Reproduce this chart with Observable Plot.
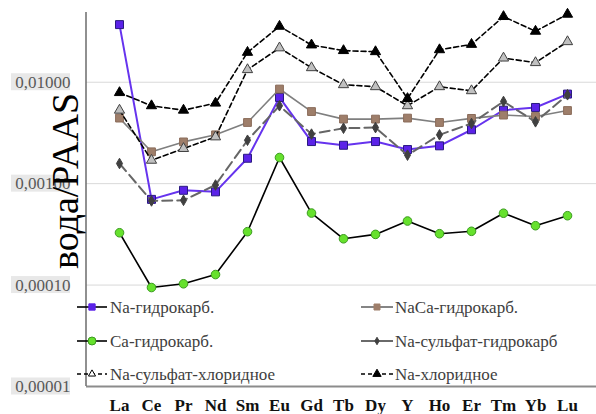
<!DOCTYPE html>
<html>
<head>
<meta charset="utf-8">
<script src="https://cdn.jsdelivr.net/npm/d3@7"></script>
<script src="https://cdn.jsdelivr.net/npm/@observablehq/plot@0.6"></script>
<style>
  html, body { margin: 0; padding: 0; background: white; }
  svg { display: block; }
</style>
</head>
<body>
<div id="chart"></div>
<script>
const elements = ["La","Ce","Pr","Nd","Sm","Eu","Gd","Tb","Dy","Y","Ho","Er","Tm","Yb","Lu"];

const seriesNames = ["Na-гидрокарб.","NaCa-гидрокарб.","Ca-гидрокарб.","Na-сульфат-гидрокарб","Na-сульфат-хлоридное","Na-хлоридное"];

const naHydrocarb     = [0.037,0.00070,0.00086,0.00083,0.00178,0.00708,0.0026,0.00239,0.0026,0.00217,0.00236,0.0034,0.0053,0.00564,0.00764];
const naCaHydrocarb   = [0.00443,0.00206,0.00258,0.00303,0.00401,0.00857,0.00514,0.00433,0.00433,0.00443,0.00401,0.0044,0.00474,0.00459,0.00526];
const caHydrocarb     = [0.000328,0.0000946,0.000103,0.000127,0.000336,0.00181,0.000513,0.000286,0.000316,0.000428,0.000321,0.000339,0.000511,0.000385,0.000483];
const naSulfHydrocarb = [0.00158,0.000675,0.000685,0.00097,0.00268,0.00586,0.00308,0.00352,0.00357,0.00191,0.00303,0.00392,0.00646,0.00407,0.00752];
const naSulfChloride  = [0.0053,0.0017,0.00222,0.00289,0.0133,0.0218,0.0139,0.00945,0.00903,0.00586,0.00903,0.00824,0.0173,0.0156,0.0251];
const naChloride      = [0.0079,0.00586,0.0053,0.00622,0.0197,0.0356,0.0233,0.0205,0.020,0.0069,0.0209,0.0236,0.0444,0.0318,0.0468];

const yTicks = [0.01, 0.001, 0.0001, 0.00001];
const yTickLabels = ["0,01000","0,00100","0,00010","0,00001"];
const yTitle = "вода/PAAS";

const seriesValues = [naHydrocarb, naCaHydrocarb, caHydrocarb, naSulfHydrocarb, naSulfChloride, naChloride];

const SERIF = "'Liberation Serif', 'Times New Roman', serif";

// styles per series (same order as seriesNames)
const styles = [
  {line:"#6633ee", lw:2, dash:null, symbol:"square", r:4.5, fill:"#5b22e8", stroke:"#2a1a80", legLine:"#000", legDash:null, legSize:40, legFill:"#5b22e8", legStroke:"#5b22e8"},
  {line:"#7f7f7f", lw:1.6, dash:null, symbol:"square", r:4.4, fill:"#9e7e6a", stroke:"#8a6c5a", legLine:"#666", legDash:null, legSize:36, legFill:"#9e7e6a", legStroke:"#9e7e6a"},
  {line:"#000", lw:1.6, dash:null, symbol:"circle", r:4.3, fill:"#66e12d", stroke:"#3a9a1e", legLine:"#000", legDash:null, legSize:50, legFill:"#66e12d", legStroke:"#3a9a1e"},
  {line:"#666", lw:2, dash:"10,5", symbol:"diamond", r:3.2, fill:"#404040", stroke:"#404040", legLine:"#444", legDash:null, legSize:16, legFill:"#404040", legStroke:"#404040"},
  {line:"#000", lw:1.6, dash:"5,3", symbol:"triangle", r:3.8, fill:"#c0c0c0", stroke:"#404040", legLine:"#000", legDash:"4,3", legSize:22, legFill:"#fff", legStroke:"#000"},
  {line:"#000", lw:1.6, dash:"5,3", symbol:"triangle", r:3.8, fill:"#000", stroke:"#000", legLine:"#000", legDash:"4,3", legSize:30, legFill:"#000", legStroke:"#000"}
];

const rows = [];
seriesNames.forEach((name, si) => {
  seriesValues[si].forEach((v, i) => rows.push({series: name, el: elements[i], v}));
});

const seriesMarks = [];
seriesNames.forEach((name, si) => {
  const s = styles[si];
  const data = rows.filter(r => r.series === name);
  seriesMarks.push(Plot.line(data, {x:"el", y:"v", stroke:s.line, strokeWidth:s.lw, strokeDasharray:s.dash || undefined}));
  seriesMarks.push(Plot.dot(data, {x:"el", y:"v", symbol:s.symbol, r:s.r, fill:s.fill, stroke:s.stroke, strokeWidth:1}));
});

const W = 596, H = 414, mL = 86, mR = 0, mT = 12, mB = 28;

const chart = Plot.plot({
  width: W, height: H,
  marginLeft: mL, marginRight: mR, marginTop: mT, marginBottom: mB,
  style: "font-family: 'Liberation Serif', 'Times New Roman', serif; background: white; overflow: visible;",
  x: {type: "point", domain: elements, range: [103, 583]},
  y: {type: "log", domain: [1e-5, 0.0487]},
  marks: [
    Plot.ruleY(yTicks.slice(0, 3), {stroke: "#d9d9d9", strokeWidth: 1}),
    Plot.ruleY([yTicks[3]], {stroke: "#8c8c8c", strokeWidth: 2}),
    Plot.axisX({tickSize: 0, tickPadding: 12, fontSize: 17, fontWeight: "bold", fontFamily: SERIF, fill: "#111", label: null}),
    Plot.axisY({ticks: yTicks, tickFormat: d => yTickLabels[yTicks.indexOf(d)], tickSize: 0, tickPadding: 16,
                fontSize: 17, fontFamily: SERIF, fill: "#595959", label: null}),
    ...seriesMarks
  ]
});

document.getElementById("chart").appendChild(chart);

const svg = d3.select(chart);
const yS = chart.scale("y");

// grey label backgrounds (behind everything)
const bg = svg.insert("g", ":first-child");
yTicks.forEach(t => {
  const y = yS.apply(t);
  bg.append("rect").attr("x", 11).attr("y", y - 8.5).attr("width", 59).attr("height", 17).attr("fill", "#e8e8e8");
});
svg.insert("rect", ":first-child").attr("x", 0).attr("y", 0).attr("width", W).attr("height", H).attr("fill", "white");

// left axis line
svg.append("line").attr("x1", mL).attr("x2", mL).attr("y1", mT).attr("y2", H - mB)
  .attr("stroke", "#6b6b6b").attr("stroke-width", 1.5);

// y title
svg.append("text")
  .attr("transform", `translate(78,181) rotate(-90)`)
  .attr("text-anchor", "middle")
  .attr("font-size", 38)
  .attr("font-family", SERIF)
  .attr("fill", "#000")
  .text(yTitle);

// legend
const legRows = [307, 341, 374];
const legCols = [{x1: 77, x2: 107, tx: 110}, {x1: 361, x2: 393, tx: 395}];
const symMap = {square: d3.symbolSquare, circle: d3.symbolCircle, triangle: d3.symbolTriangle, diamond: d3.symbolDiamond};
const leg = svg.append("g");
seriesNames.forEach((name, si) => {
  const s = styles[si];
  const c = legCols[si % 2], y = legRows[Math.floor(si / 2)];
  leg.append("line").attr("x1", c.x1).attr("x2", c.x2).attr("y1", y).attr("y2", y)
    .attr("stroke", s.legLine).attr("stroke-width", 1.6).attr("stroke-dasharray", s.legDash);
  leg.append("path").attr("d", d3.symbol(symMap[s.symbol], s.legSize)())
    .attr("transform", `translate(${(c.x1 + c.x2) / 2},${y})`)
    .attr("fill", s.legFill).attr("stroke", s.legStroke).attr("stroke-width", 1);
  leg.append("text").attr("x", c.tx).attr("y", y).attr("dy", "0.35em")
    .attr("text-anchor", "start")
    .attr("font-size", 17).attr("fill", "#404040")
    .attr("font-family", SERIF)
    .text(name);
});
</script>
</body>
</html>
